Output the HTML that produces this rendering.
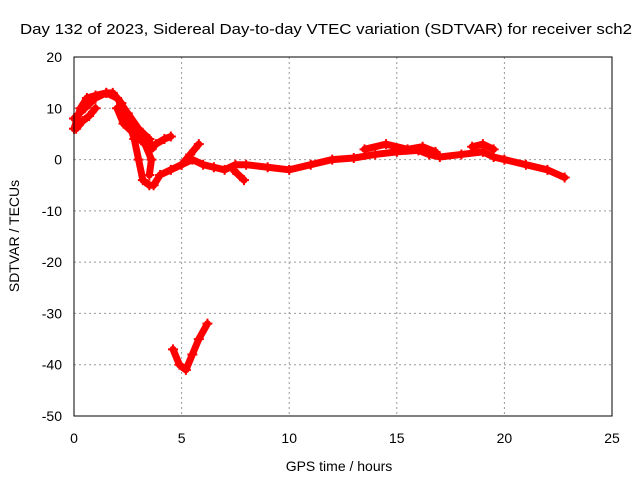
<!DOCTYPE html>
<html><head><meta charset="utf-8">
<style>
body{margin:0;background:#fff;}
svg{display:block;font-family:"Liberation Sans",sans-serif;font-size:14px;}
</style></head>
<body>
<svg id="chart" width="640" height="480" xmlns="http://www.w3.org/2000/svg">
<rect width="640" height="480" fill="#fff"/>
<text x="20" y="34" textLength="612" lengthAdjust="spacingAndGlyphs" style="font-size:15px" fill="#000">Day 132 of 2023, Sidereal Day-to-day VTEC variation (SDTVAR) for receiver sch2</text>
<g id="grid"></g>
<g id="axes"></g>
<g id="series"></g>
<rect x="74" y="57" width="538" height="359" fill="none" stroke="#000" stroke-width="1"/>
<text x="339" y="471" text-anchor="middle">GPS time / hours</text>
<text transform="translate(19,236) rotate(-90)" text-anchor="middle">SDTVAR / TECUs</text>
</svg>
<script>
const xTicks=[0,5,10,15,20,25];
const yTicks=[20,10,0,-10,-20,-30,-40,-50];
const trackMain=[[0,6],[0.3,10],[0.6,12],[1,12.5],[1.5,13],[1.8,13],[2.2,11],[2.5,8],[2.8,4],[3.0,0],[3.2,-4],[3.5,-5],[3.7,-5],[4,-3],[4.5,-2],[5,-1],[5.5,0],[6,-1],[6.5,-1.5],[7,-2],[7.5,-1],[8,-1],[9,-1.5],[10,-2],[11,-1],[12,0],[13,0.3],[14,1],[15,1.5],[16,1.8],[16.5,1],[17,0.5],[18,1],[19,1.5],[19.5,0.5],[20,0],[21,-1],[22,-2],[22.8,-3.5]];
const trackB=[[0,8],[0.5,10],[1,12],[1.5,13],[2,12],[2.5,9],[3,6],[3.5,4],[3.6,2],[3.8,3],[4.2,4],[4.5,4.5]];
const trackC=[[0.1,6],[0.4,7.5],[0.7,8.5],[1.0,10]];
const trackD=[[2,10],[2.3,7],[2.8,5],[3.3,3],[3.6,0],[3.5,-3]];
const trackE=[[5,-1],[5.4,1],[5.8,3]];
const trackF=[[4.6,-37],[4.9,-40],[5.2,-41],[5.5,-38],[5.8,-35],[6.2,-32]];
const trackG=[[13.5,2],[14.5,3],[15.5,2],[16.2,2.5],[16.8,1.5]];
const trackH=[[7.4,-2],[7.9,-4]];
const trackI=[[18.5,2.5],[19,3],[19.5,2]];
const tracks=[trackMain,trackB,trackC,trackD,trackE,trackF,trackG,trackH,trackI];
const NS="http://www.w3.org/2000/svg";
const X=v=>74+v*(538/25);
const Y=v=>57+(20-v)*(359/70);
const grid=document.getElementById('grid'),axes=document.getElementById('axes'),ser=document.getElementById('series');
function mk(tag,attrs,parent){const e=document.createElementNS(NS,tag);for(const k in attrs)e.setAttribute(k,attrs[k]);parent.appendChild(e);return e;}
xTicks.forEach(t=>{
  if(t>0&&t<25){const g=mk('line',{x1:X(t),x2:X(t),y1:57,y2:416,stroke:'#999','stroke-dasharray':'2,3'},grid);
  
  }
  const l=mk('text',{x:X(t),y:443,'text-anchor':'middle'},axes);l.textContent=t;
  
  
});
yTicks.forEach(t=>{
  if(t<20&&t>-50){const g=mk('line',{x1:74,x2:612,y1:Y(t),y2:Y(t),stroke:'#999','stroke-dasharray':'2,3'},grid);
  
  }
  const l=mk('text',{x:62,y:Y(t)+5,'text-anchor':'end'},axes);l.textContent=t;
  
  
});
tracks.forEach(tr=>{
  const p=mk('polyline',{points:tr.map(d=>X(d[0])+','+Y(d[1])).join(' '),fill:'none',stroke:'#f00','stroke-width':7,'stroke-linejoin':'round','stroke-linecap':'round'},ser);
  
  
  tr.forEach(d=>{
    const m=mk('path',{d:`M${X(d[0])-5},${Y(d[1])}h10M${X(d[0])},${Y(d[1])-5}v10`,stroke:'#f00','stroke-width':2},ser);
    
    
  });
});
</script>
</body></html>
